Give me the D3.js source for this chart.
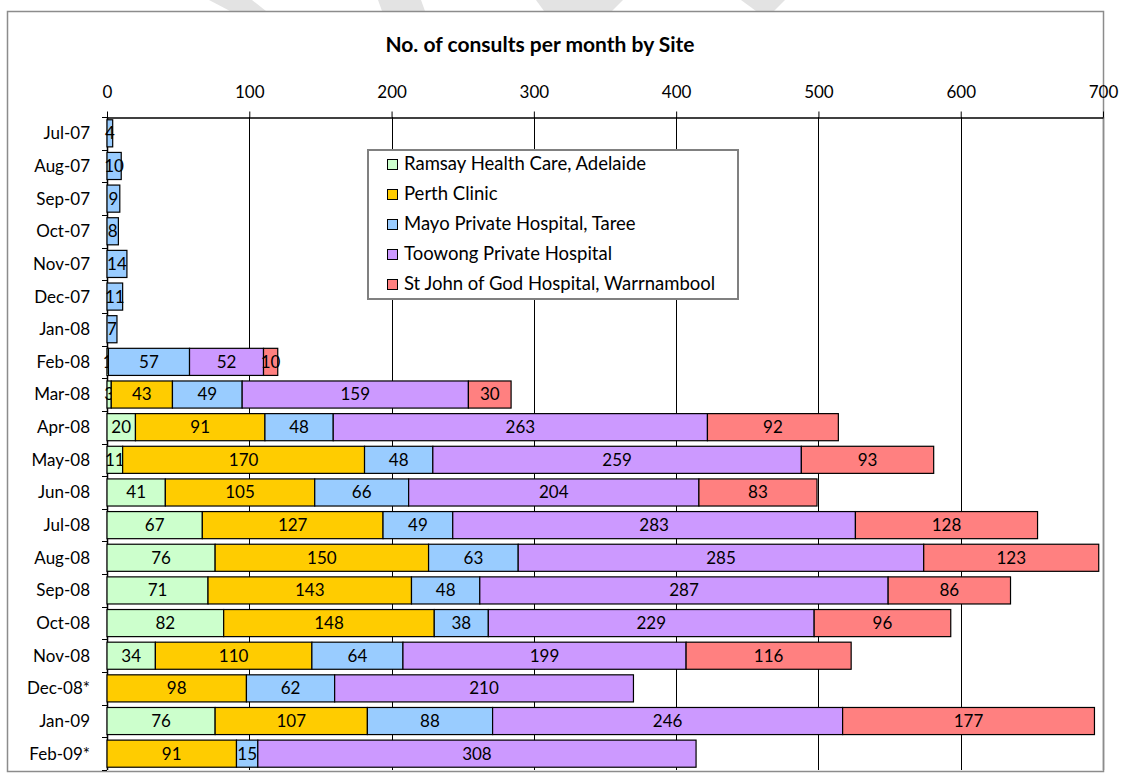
<!DOCTYPE html>
<html>
<head>
<meta charset="utf-8">
<script src="https://cdn.jsdelivr.net/npm/d3@7"></script>
<style>
  body { margin: 0; background: #fff; }
  svg text { font-family: Lato, "Open Sans", sans-serif; fill: #000; }
</style>
</head>
<body>
<div id="chart"></div>
<script>
// consults per month, one array per site
const months = ["Jul-07", "Aug-07", "Sep-07", "Oct-07", "Nov-07", "Dec-07", "Jan-08", "Feb-08",
  "Mar-08", "Apr-08", "May-08", "Jun-08", "Jul-08", "Aug-08", "Sep-08", "Oct-08", "Nov-08",
  "Dec-08*", "Jan-09", "Feb-09*"];
const ramsay  = [0, 0, 0, 0, 0, 0, 0, 1, 3, 20, 11, 41, 67, 76, 71, 82, 34, 0, 76, 0];
const perth   = [0, 0, 0, 0, 0, 0, 0, 0, 43, 91, 170, 105, 127, 150, 143, 148, 110, 98, 107, 91];
const mayo    = [4, 10, 9, 8, 14, 11, 7, 57, 49, 48, 48, 66, 49, 63, 48, 38, 64, 62, 88, 15];
const toowong = [0, 0, 0, 0, 0, 0, 0, 52, 159, 263, 259, 204, 283, 285, 287, 229, 199, 210, 246, 308];
const stjohn  = [0, 0, 0, 0, 0, 0, 0, 10, 30, 92, 93, 83, 128, 123, 86, 96, 116, 0, 177, 0];

const siteNames = ["Ramsay Health Care, Adelaide", "Perth Clinic", "Mayo Private Hospital, Taree",
  "Toowong Private Hospital", "St John of God Hospital, Warrnambool"];
const siteKeys = ["ramsay", "perth", "mayo", "toowong", "stjohn"];
const siteColors = ["#ccffcc", "#ffcc00", "#99ccff", "#cc99ff", "#ff8080"];
const xTicks = [0, 100, 200, 300, 400, 500, 600, 700];

const width = 1129;
const height = 780;

const rows = months.map((m, i) => ({
  month: m,
  ramsay: ramsay[i],
  perth: perth[i],
  mayo: mayo[i],
  toowong: toowong[i],
  stjohn: stjohn[i]
}));

let svg = d3.select("#chart")
  .append("svg")
  .attr("width", width)
  .attr("height", height);

// watermark bits peeking in at the top
const marks = [
  [[209, 0], [252, 0], [266, 11], [230, 11]],
  [[378, 0], [421, 0], [425, 11], [382, 11]],
  [[536, 0], [623, 0], [612, 11], [544, 11]],
  [[741, 0], [785, 0], [774, 11], [756, 11]]
];
svg.selectAll(".wm")
  .data(marks)
  .enter()
  .append("polygon")
  .attr("points", d => d.map(p => p.join(",")).join(" "))
  .attr("fill", "#e3e3e3");

// chart frame
svg.append("rect")
  .attr("x", 7.5)
  .attr("y", 11.5)
  .attr("width", 1096)
  .attr("height", 760)
  .attr("fill", "#fff")
  .attr("stroke", "#8c8c8c")
  .attr("stroke-width", 1.5);

svg.append("text")
  .attr("x", 540)
  .attr("y", 52)
  .attr("text-anchor", "middle")
  .attr("font-size", "21px")
  .attr("font-weight", "bold")
  .text("No. of consults per month by Site");

const x = d3.scaleLinear().domain([0, 700]).range([107, 1103]);
const y = d3.scaleBand()
  .domain(months)
  .range([117, 770])
  .paddingInner(0.17)
  .paddingOuter(0.085);

// gridlines
svg.append("g")
  .selectAll("line")
  .data(xTicks.filter(t => t > 0))
  .enter()
  .append("line")
  .attr("x1", d => Math.round(x(d)) + 0.5)
  .attr("x2", d => Math.round(x(d)) + 0.5)
  .attr("y1", 117)
  .attr("y2", 770)
  .attr("stroke", d => (d === 700 ? "#8c8c8c" : "#000"))
  .attr("stroke-width", d => (d === 700 ? 1.5 : 1));

// top axis
const xAxis = d3.axisTop(x).tickValues(xTicks).tickSize(6).tickSizeOuter(0).tickPadding(14);
let gx = svg.append("g")
  .attr("transform", "translate(0,117.5)")
  .call(xAxis);
gx.select(".domain").attr("stroke", "#000").attr("stroke-width", 1.5);
gx.selectAll(".tick line").attr("stroke", "#000");
gx.selectAll(".tick text")
  .attr("font-size", "17px")
  .attr("font-family", "Lato, sans-serif")
  .attr("fill", "#000");

// left axis: line, boundary ticks and month labels
svg.append("line")
  .attr("x1", 107.5).attr("x2", 107.5)
  .attr("y1", 117).attr("y2", 770)
  .attr("stroke", "#000").attr("stroke-width", 1.5);

const step = y.step();
svg.append("g")
  .selectAll("line")
  .data(d3.range(months.length + 1))
  .enter()
  .append("line")
  .attr("x1", 102)
  .attr("x2", 107)
  .attr("y1", i => Math.round(117 + i * step) + 0.5)
  .attr("y2", i => Math.round(117 + i * step) + 0.5)
  .attr("stroke", "#000");

svg.append("g")
  .selectAll("text")
  .data(months)
  .enter()
  .append("text")
  .attr("x", 90)
  .attr("y", d => y(d) + y.bandwidth() / 2)
  .attr("dy", "0.35em")
  .attr("text-anchor", "end")
  .attr("font-size", "17px")
  .text(d => d);

// stacked bars
const stack = d3.stack().keys(siteKeys);
const layers = stack(rows);

let bars = svg.append("g").attr("class", "bars");
layers.forEach((layer, li) => {
  const segs = layer
    .map(s => ({ x0: s[0], x1: s[1], month: s.data.month, v: s[1] - s[0] }))
    .filter(s => s.v > 0);

  bars.selectAll(".seg-" + li)
    .data(segs)
    .enter()
    .append("rect")
    .attr("class", "seg-" + li)
    .attr("x", d => x(d.x0))
    .attr("y", d => y(d.month))
    .attr("width", d => x(d.x1) - x(d.x0))
    .attr("height", y.bandwidth())
    .attr("fill", siteColors[li])
    .attr("stroke", "#000")
    .attr("stroke-width", 1.2);

  bars.selectAll(".lbl-" + li)
    .data(segs)
    .enter()
    .append("text")
    .attr("class", "lbl-" + li)
    .attr("x", d => (x(d.x0) + x(d.x1)) / 2)
    .attr("y", d => y(d.month) + y.bandwidth() / 2)
    .attr("dy", "0.35em")
    .attr("text-anchor", "middle")
    .attr("font-size", "17px")
    .text(d => d.v);
});

// legend
let legend = svg.append("g").attr("transform", "translate(368,150)");
legend.append("rect")
  .attr("width", 370)
  .attr("height", 149)
  .attr("fill", "#fff")
  .attr("stroke", "#808080")
  .attr("stroke-width", 2);

let items = legend.selectAll(".item")
  .data(siteNames)
  .enter()
  .append("g")
  .attr("transform", (d, i) => "translate(0," + (14 + i * 30) + ")");
items.append("rect")
  .attr("x", 19.5)
  .attr("y", -4.5)
  .attr("width", 10)
  .attr("height", 10)
  .attr("fill", (d, i) => siteColors[i])
  .attr("stroke", "#000");
items.append("text")
  .attr("x", 36)
  .attr("y", 0)
  .attr("dy", "0.35em")
  .attr("font-size", "18.5px")
  .text(d => d);
</script>
</body>
</html>
